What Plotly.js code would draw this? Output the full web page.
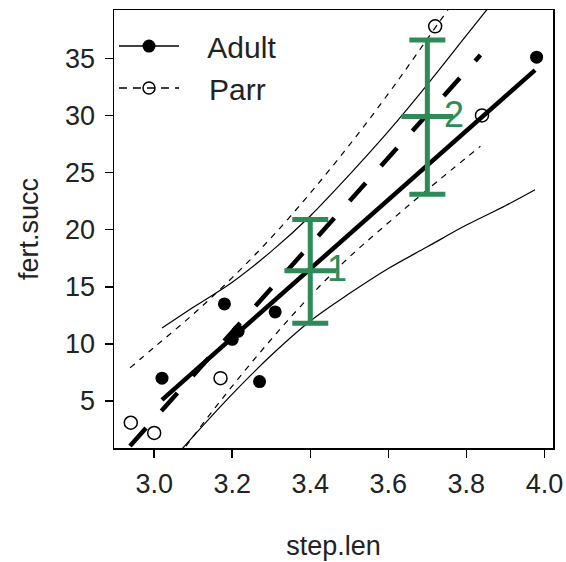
<!DOCTYPE html>
<html>
<head>
<meta charset="utf-8">
<script src="https://cdn.plot.ly/plotly-3.0.1.min.js"></script>
<style>html,body{margin:0;padding:0;background:#fff;}#chart{width:566px;height:562px;}</style>
</head>
<body>
<div id="chart"></div>
<script>
// ---- data ----
const adultX = [3.02, 3.18, 3.20, 3.215, 3.27, 3.31, 3.98];
const adultY = [7.0, 13.5, 10.4, 11.1, 6.7, 12.8, 35.1];
const parrX = [2.94, 3.00, 3.17, 3.72, 3.84];
const parrY = [3.1, 2.2, 7.0, 37.8, 30.0];

const adultFitX = [3.02, 3.976];
const adultFitY = [5.1, 33.97];
const parrFitX = [2.938, 3.836];
const parrFitY = [1.07, 35.28];

const adultBandX = [3.02, 3.1, 3.2, 3.3, 3.4, 3.5, 3.6, 3.7, 3.8, 3.9, 3.976];
const adultBandUpper = [11.4, 13.2, 15.4, 18.1, 21.2, 24.8, 28.6, 32.7, 37.0, 41.3, 44.6];
const adultBandLower = [-1.2, 1.9, 5.6, 9.0, 12.0, 14.4, 16.6, 18.5, 20.4, 22.1, 23.5];

const parrBandX = [2.938, 3.0, 3.1, 3.2, 3.3, 3.4, 3.5, 3.6, 3.7, 3.836];
const parrBandUpper = [7.9, 9.7, 12.6, 15.8, 19.3, 23.2, 27.4, 31.9, 36.7, 43.3];
const parrBandLower = [-5.8, -2.8, 1.9, 6.3, 10.4, 14.2, 17.6, 20.6, 23.5, 27.3];

const barX = [3.4, 3.7];
const barMid = [16.4, 29.9];
const barTop = [20.9, 36.6];
const barBottom = [11.8, 23.1];
const barLabels = ['1', '2'];

const xTicks = [3.0, 3.2, 3.4, 3.6, 3.8, 4.0];
const xTickText = ['3.0', '3.2', '3.4', '3.6', '3.8', '4.0'];
const yTicks = [5, 10, 15, 20, 25, 30, 35];
const yTickText = ['5', '10', '15', '20', '25', '30', '35'];

const seriesNames = ['Adult', 'Parr'];
// ---------------------------------------

const GREEN = '#2E8B57';
const FONT = 'Liberation Sans, Arial, sans-serif';

const traces = [
  {x: adultBandX, y: adultBandUpper, mode: 'lines', line: {color: '#000', width: 1.2, shape: 'spline'}, showlegend: false, hoverinfo: 'skip'},
  {x: adultBandX, y: adultBandLower, mode: 'lines', line: {color: '#000', width: 1.2, shape: 'spline'}, showlegend: false, hoverinfo: 'skip'},
  {x: parrBandX, y: parrBandUpper, mode: 'lines', line: {color: '#000', width: 1.2, dash: '6px,6px', shape: 'spline'}, showlegend: false, hoverinfo: 'skip'},
  {x: parrBandX, y: parrBandLower, mode: 'lines', line: {color: '#000', width: 1.2, dash: '6px,6px', shape: 'spline'}, showlegend: false, hoverinfo: 'skip'},
  {x: adultFitX, y: adultFitY, mode: 'lines', line: {color: '#000', width: 4.5}, showlegend: false},
  {x: parrFitX, y: parrFitY, mode: 'lines', line: {color: '#000', width: 4.5, dash: '24px,23px'}, showlegend: false},
  {x: adultX, y: adultY, mode: 'markers', marker: {symbol: 'circle', size: 13, color: '#000'}, showlegend: false},
  {x: parrX, y: parrY, mode: 'markers', marker: {symbol: 'circle-open', size: 13, color: '#000', line: {width: 1.5, color: '#000'}}, showlegend: false},
  {x: barX, y: barMid, mode: 'markers', showlegend: false,
   marker: {symbol: 'line-ew', size: 37, color: GREEN, line: {color: GREEN, width: 5}},
   error_y: {type: 'data', symmetric: false,
             array: barTop.map((t, i) => t - barMid[i]),
             arrayminus: barMid.map((m, i) => m - barBottom[i]),
             color: GREEN, thickness: 5, width: 18}},
  // legend entries
  {x: [null], y: [null], name: '   ' + seriesNames[0], mode: 'lines+markers',
   line: {color: '#000', width: 1.5}, marker: {symbol: 'circle', size: 13, color: '#000'}},
  {x: [null], y: [null], name: '   ' + seriesNames[1], mode: 'lines+markers',
   line: {color: '#000', width: 1.5, dash: '8px,6px'}, marker: {symbol: 'circle-open', size: 12, color: '#000', line: {width: 1.5, color: '#000'}}}
];

const annotations = barLabels.map((t, i) => ({
  x: barX[i], y: barMid[i], xref: 'x', yref: 'y', text: t, showarrow: false,
  xanchor: 'left', yanchor: 'middle', xshift: 15, yshift: 2,
  font: {family: FONT, size: 36, color: GREEN}
}));

const layout = {
  width: 566, height: 562,
  margin: {l: 114, r: 13, t: 10, b: 114, pad: 0},
  paper_bgcolor: '#fff', plot_bgcolor: '#fff',
  font: {family: FONT, color: '#222'},
  showlegend: true,
  legend: {x: 0, y: 0.977, xanchor: 'left', yanchor: 'top', bgcolor: 'rgba(0,0,0,0)',
           font: {family: FONT, size: 30, color: '#222'}, itemwidth: 60, tracegroupgap: 0},
  xaxis: {range: [2.897, 4.022], tickvals: xTicks, ticktext: xTickText,
          showgrid: false, zeroline: false, showline: true, mirror: true, linecolor: '#000', linewidth: 1.5,
          ticks: 'outside', ticklen: 8, tickwidth: 1.5, tickcolor: '#000',
          tickfont: {family: FONT, size: 27, color: '#222'}, ticklabelstandoff: 3,
          title: {text: 'step.len', font: {family: FONT, size: 27, color: '#222'}, standoff: 38}},
  yaxis: {range: [0.885, 39.23], tickvals: yTicks, ticktext: yTickText,
          showgrid: false, zeroline: false, showline: true, mirror: true, linecolor: '#000', linewidth: 1.5,
          ticks: 'outside', ticklen: 8, tickwidth: 1.5, tickcolor: '#000',
          tickfont: {family: FONT, size: 27, color: '#222'}, ticklabelstandoff: 4,
          title: {text: 'fert.succ', font: {family: FONT, size: 27, color: '#222'}, standoff: 18}},
  annotations: annotations
};

Plotly.newPlot('chart', traces, layout, {staticPlot: true, displayModeBar: false});
</script>
</body>
</html>
